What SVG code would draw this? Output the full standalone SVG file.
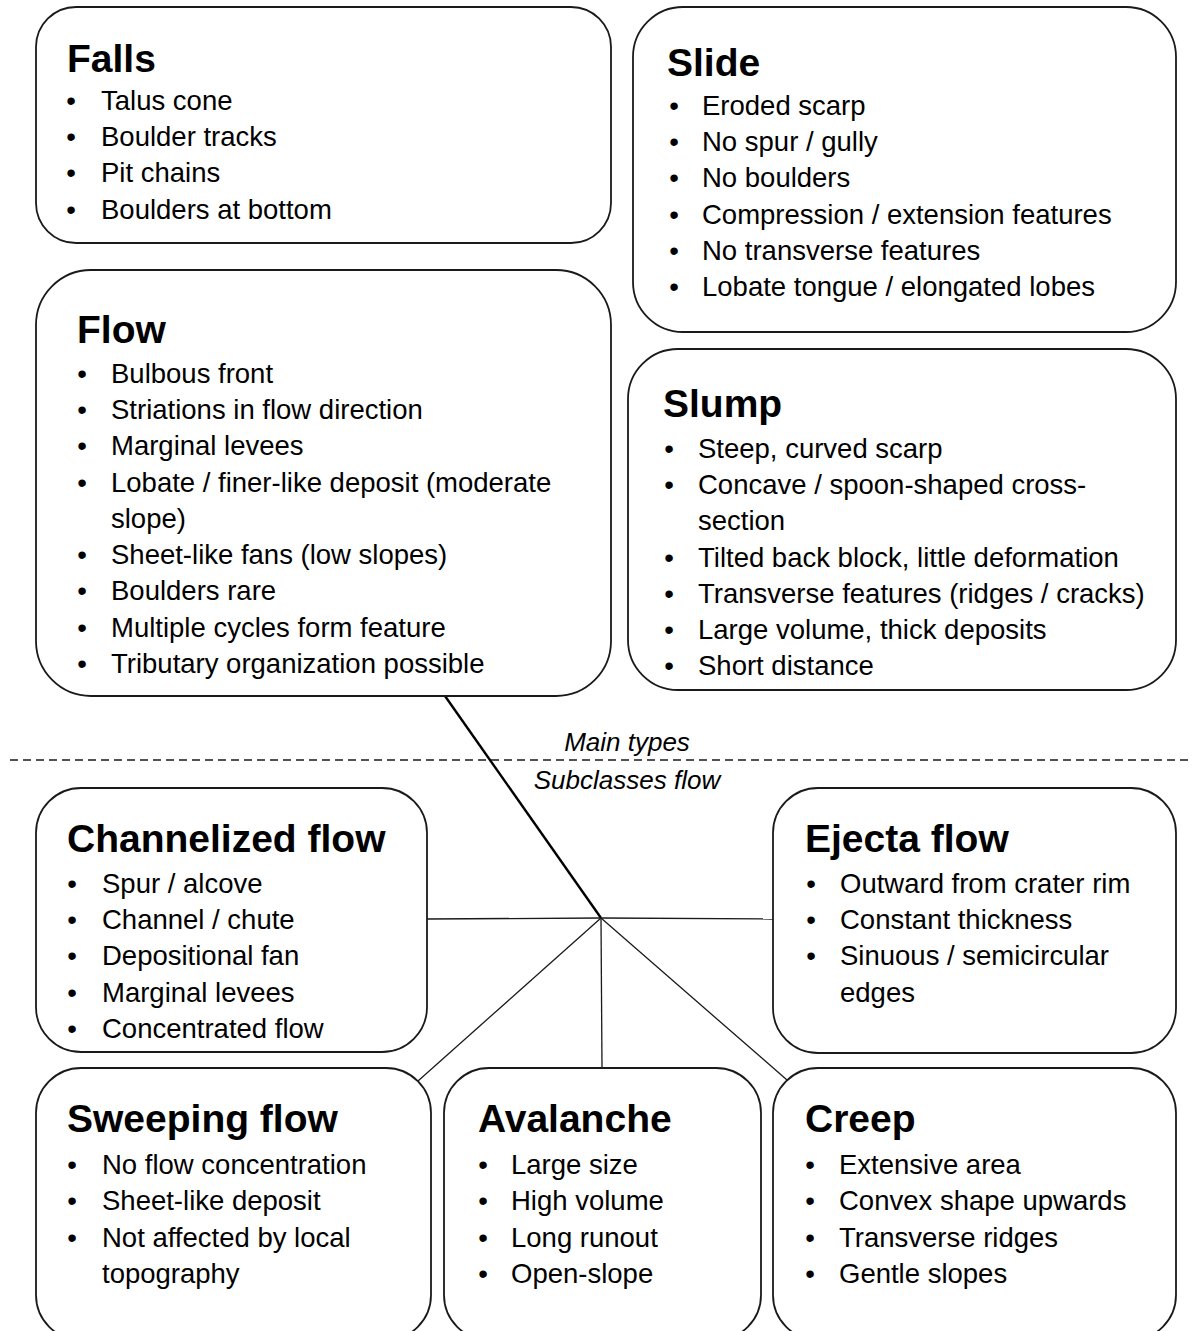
<svg xmlns="http://www.w3.org/2000/svg" width="1192" height="1331" viewBox="0 0 1192 1331">
<style>
.box{fill:#fff;stroke:#1a1a1a;stroke-width:1.8}
.t{font-family:"Liberation Sans",Arial,sans-serif;font-weight:bold;font-size:39px;fill:#000}
.i{font-family:"Liberation Sans",Arial,sans-serif;font-size:27.5px;fill:#000}
.b{font-family:"Liberation Sans",Arial,sans-serif;font-size:27.5px;fill:#000;text-anchor:middle}
.lab{font-family:"Liberation Sans",Arial,sans-serif;font-style:italic;font-size:26px;fill:#000;text-anchor:middle}
.thin{stroke:#1a1a1a;stroke-width:1.3;fill:none}
.thick{stroke:#000;stroke-width:2.4;fill:none}
</style>
<rect width="1192" height="1331" fill="#fff"/>
<g id="connectors">
<line class="thick" x1="445" y1="696" x2="601" y2="918"/>
<line class="thin" x1="601" y1="918" x2="427" y2="919"/>
<line class="thin" x1="601" y1="918" x2="773" y2="919"/>
<line class="thin" x1="601" y1="918" x2="418" y2="1081"/>
<line class="thin" x1="601" y1="918" x2="602" y2="1068"/>
<line class="thin" x1="601" y1="918" x2="787" y2="1080"/>
<line x1="10" y1="760" x2="1192" y2="760" stroke="#1a1a1a" stroke-width="1.6" stroke-dasharray="8,5"/>
<text class="lab" x="627" y="751">Main types</text>
<text class="lab" x="627" y="789">Subclasses flow</text>
</g>
<g id="falls">
<rect class="box" x="36" y="7" width="575" height="236" rx="40"/>
<text class="t" x="67" y="72">Falls</text>
<text class="b" x="71" y="110">•</text><text class="i" x="101" y="110">Talus cone</text>
<text class="b" x="71" y="146">•</text><text class="i" x="101" y="146">Boulder tracks</text>
<text class="b" x="71" y="182">•</text><text class="i" x="101" y="182">Pit chains</text>
<text class="b" x="71" y="219">•</text><text class="i" x="101" y="219">Boulders at bottom</text>
</g>
<g id="slide">
<rect class="box" x="633" y="7" width="543" height="325" rx="50"/>
<text class="t" x="667" y="76">Slide</text>
<text class="b" x="674" y="115">•</text><text class="i" x="702" y="115">Eroded scarp</text>
<text class="b" x="674" y="151">•</text><text class="i" x="702" y="151">No spur / gully</text>
<text class="b" x="674" y="187">•</text><text class="i" x="702" y="187">No boulders</text>
<text class="b" x="674" y="224">•</text><text class="i" x="702" y="224">Compression / extension features</text>
<text class="b" x="674" y="260">•</text><text class="i" x="702" y="260">No transverse features</text>
<text class="b" x="674" y="296">•</text><text class="i" x="702" y="296">Lobate tongue / elongated lobes</text>
</g>
<g id="flow">
<rect class="box" x="36" y="270" width="575" height="426" rx="55"/>
<text class="t" x="77" y="343">Flow</text>
<text class="b" x="82" y="383">•</text><text class="i" x="111" y="383">Bulbous front</text>
<text class="b" x="82" y="419">•</text><text class="i" x="111" y="419">Striations in flow direction</text>
<text class="b" x="82" y="455">•</text><text class="i" x="111" y="455">Marginal levees</text>
<text class="b" x="82" y="492">•</text><text class="i" x="111" y="492">Lobate / finer-like deposit (moderate</text>
<text class="i" x="111" y="528">slope)</text>
<text class="b" x="82" y="564">•</text><text class="i" x="111" y="564">Sheet-like fans (low slopes)</text>
<text class="b" x="82" y="600">•</text><text class="i" x="111" y="600">Boulders rare</text>
<text class="b" x="82" y="637">•</text><text class="i" x="111" y="637">Multiple cycles form feature</text>
<text class="b" x="82" y="673">•</text><text class="i" x="111" y="673">Tributary organization possible</text>
</g>
<g id="slump">
<rect class="box" x="628" y="349" width="548" height="341" rx="50"/>
<text class="t" x="663" y="417">Slump</text>
<text class="b" x="669" y="458">•</text><text class="i" x="698" y="458">Steep, curved scarp</text>
<text class="b" x="669" y="494">•</text><text class="i" x="698" y="494">Concave / spoon-shaped cross-</text>
<text class="i" x="698" y="530">section</text>
<text class="b" x="669" y="567">•</text><text class="i" x="698" y="567">Tilted back block, little deformation</text>
<text class="b" x="669" y="603">•</text><text class="i" x="698" y="603">Transverse features (ridges / cracks)</text>
<text class="b" x="669" y="639">•</text><text class="i" x="698" y="639">Large volume, thick deposits</text>
<text class="b" x="669" y="675">•</text><text class="i" x="698" y="675">Short distance</text>
</g>
<g id="channelized">
<rect class="box" x="36" y="788" width="391" height="264" rx="45"/>
<text class="t" x="67" y="852">Channelized flow</text>
<text class="b" x="72" y="893">•</text><text class="i" x="102" y="893">Spur / alcove</text>
<text class="b" x="72" y="929">•</text><text class="i" x="102" y="929">Channel / chute</text>
<text class="b" x="72" y="965">•</text><text class="i" x="102" y="965">Depositional fan</text>
<text class="b" x="72" y="1002">•</text><text class="i" x="102" y="1002">Marginal levees</text>
<text class="b" x="72" y="1038">•</text><text class="i" x="102" y="1038">Concentrated flow</text>
</g>
<g id="ejecta">
<rect class="box" x="773" y="788" width="403" height="265" rx="45"/>
<text class="t" x="805" y="852">Ejecta flow</text>
<text class="b" x="811" y="893">•</text><text class="i" x="840" y="893">Outward from crater rim</text>
<text class="b" x="811" y="929">•</text><text class="i" x="840" y="929">Constant thickness</text>
<text class="b" x="811" y="965">•</text><text class="i" x="840" y="965">Sinuous / semicircular</text>
<text class="i" x="840" y="1002">edges</text>
</g>
<g id="sweeping">
<rect class="box" x="36" y="1068" width="395" height="272" rx="45"/>
<text class="t" x="67" y="1132">Sweeping flow</text>
<text class="b" x="72" y="1174">•</text><text class="i" x="102" y="1174">No flow concentration</text>
<text class="b" x="72" y="1210">•</text><text class="i" x="102" y="1210">Sheet-like deposit</text>
<text class="b" x="72" y="1247">•</text><text class="i" x="102" y="1247">Not affected by local</text>
<text class="i" x="102" y="1283">topography</text>
</g>
<g id="avalanche">
<rect class="box" x="444" y="1068" width="317" height="272" rx="45"/>
<text class="t" x="478" y="1132">Avalanche</text>
<text class="b" x="483" y="1174">•</text><text class="i" x="511" y="1174">Large size</text>
<text class="b" x="483" y="1210">•</text><text class="i" x="511" y="1210">High volume</text>
<text class="b" x="483" y="1247">•</text><text class="i" x="511" y="1247">Long runout</text>
<text class="b" x="483" y="1283">•</text><text class="i" x="511" y="1283">Open-slope</text>
</g>
<g id="creep">
<rect class="box" x="773" y="1068" width="403" height="272" rx="45"/>
<text class="t" x="805" y="1132">Creep</text>
<text class="b" x="810" y="1174">•</text><text class="i" x="839" y="1174">Extensive area</text>
<text class="b" x="810" y="1210">•</text><text class="i" x="839" y="1210">Convex shape upwards</text>
<text class="b" x="810" y="1247">•</text><text class="i" x="839" y="1247">Transverse ridges</text>
<text class="b" x="810" y="1283">•</text><text class="i" x="839" y="1283">Gentle slopes</text>
</g>
</svg>
